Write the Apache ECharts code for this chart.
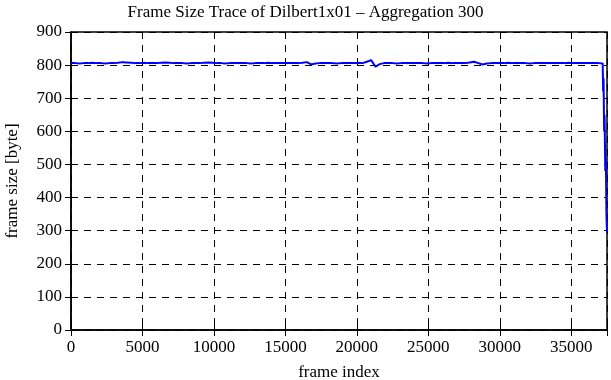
<!DOCTYPE html>
<html><head><meta charset="utf-8">
<script src="https://cdn.jsdelivr.net/npm/echarts@6/dist/echarts.min.js"></script>
<style>html,body{margin:0;padding:0;background:#fff}#c{width:611px;height:380px}</style>
</head><body><div id="c"></div>
<script>
const titleText = "Frame Size Trace of Dilbert1x01 \u2013 Aggregation 300";
const xName = "frame index";
const yName = "frame size [byte]";
const xTicks = [0, 5000, 10000, 15000, 20000, 25000, 30000, 35000];
const yTicks = [0, 100, 200, 300, 400, 500, 600, 700, 800, 900];
const frames = [
0,300,600,900,1200,1500,1800,2100,2400,2700,
3000,3300,3600,3900,4200,4500,4800,5100,5400,5700,
6000,6300,6600,6900,7200,7500,7800,8100,8400,8700,
9000,9300,9600,9900,10200,10500,10800,11100,11400,11700,
12000,12300,12600,12900,13200,13500,13800,14100,14400,14700,
15000,15300,15600,15900,16200,16500,16800,17100,17400,17700,
18000,18300,18600,18900,19200,19500,19800,20100,20400,20700,
21000,21300,21600,21900,22200,22500,22800,23100,23400,23700,
24000,24300,24600,24900,25200,25500,25800,26100,26400,26700,
27000,27300,27600,27900,28200,28500,28800,29100,29400,29700,
30000,30300,30600,30900,31200,31500,31800,32100,32400,32700,
33000,33300,33600,33900,34200,34500,34800,35100,35400,35700,
36000,36300,36600,36900,37200,
37230,37260,37300,37330,37380,37420,37460,37500];
const sizes = [
806,806,805,806,806,807,806,806,805,806,
806,807,809,808,807,806,806,807,806,806,
806,807,808,807,806,806,806,805,806,806,
806,807,808,807,806,806,805,806,806,806,
806,806,805,806,806,806,807,806,806,806,
806,806,806,806,807,809,802,805,806,806,
806,806,805,806,806,806,806,807,806,810,
815,795,803,806,806,806,805,806,806,806,
806,806,806,805,806,806,806,806,807,806,
806,806,806,808,810,806,802,805,806,806,
806,806,807,806,806,806,806,805,806,806,
806,806,806,806,806,806,807,806,806,806,
806,806,806,806,805,
720,760,600,650,480,520,350,296];

const font = "'Liberation Serif', 'DejaVu Serif', serif";
const chart = echarts.init(document.getElementById('c'), null, {renderer: 'canvas'});
const split = {show: true, lineStyle: {color: '#000', type: [7, 6], width: 1}};
const tickIn = {show: true, inside: true, length: 6, lineStyle: {color: '#000', width: 1}};
chart.setOption({
  animation: false,
  backgroundColor: '#fff',
  title: {text: titleText, left: 'center', top: -1,
    textStyle: {fontFamily: font, fontSize: 17, fontWeight: 'normal', color: '#000'}},
  grid: {left: 71, right: 4, top: 32, bottom: 50, show: true, borderColor: '#000', borderWidth: 1.5,
    containLabel: false, outerBoundsMode: 'none'},
  xAxis: [{
    type: 'value', min: 0, max: 37500, interval: 5000, position: 'bottom',
    name: xName, nameLocation: 'middle', nameGap: 34,
    nameTextStyle: {fontFamily: font, fontSize: 17, color: '#000'},
    axisLine: {show: true, lineStyle: {color: '#000', width: 1.5}},
    axisTick: tickIn, splitLine: split,
    axisLabel: {fontFamily: font, fontSize: 17, color: '#000', margin: 9,
      formatter: v => xTicks.includes(v) ? String(v) : ''}
  }, {
    type: 'value', min: 0, max: 37500, interval: 5000, position: 'top',
    axisLine: {show: false}, axisTick: tickIn, splitLine: {show: false}, axisLabel: {show: false}
  }],
  yAxis: [{
    type: 'value', min: 0, max: 900, interval: 100, position: 'left',
    name: yName, nameLocation: 'middle', nameGap: 50,
    nameTextStyle: {fontFamily: font, fontSize: 17, color: '#000'},
    axisLine: {show: true, lineStyle: {color: '#000', width: 1.5}},
    axisTick: tickIn, splitLine: split,
    axisLabel: {fontFamily: font, fontSize: 17, color: '#000', margin: 9,
      formatter: v => yTicks.includes(v) ? String(v) : ''}
  }, {
    type: 'value', min: 0, max: 900, interval: 100, position: 'right',
    axisLine: {show: false}, axisTick: tickIn, splitLine: {show: false}, axisLabel: {show: false}
  }],
  series: [{
    type: 'line', xAxisIndex: 0, yAxisIndex: 0, showSymbol: false,
    lineStyle: {color: '#0000ff', width: 2}, z: 5,
    data: frames.map((f, i) => [f, sizes[i]])
  }]
});
</script></body></html>
